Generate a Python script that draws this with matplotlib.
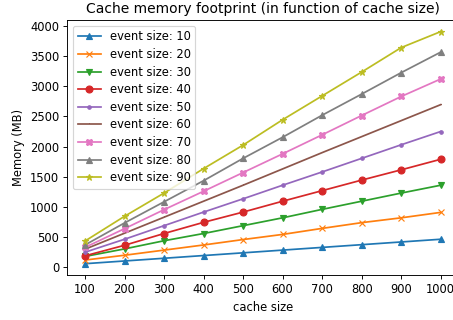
import matplotlib
matplotlib.use("Agg")
import matplotlib.pyplot as plt

cache_sizes = [100, 200, 300, 400, 500, 600, 700, 800, 900, 1000]
event_sizes = [10, 20, 30, 40, 50, 60, 70, 80, 90]
ev10 = [60, 105, 150, 195, 240, 285, 330, 375, 420, 465]
ev20 = [120, 200, 285, 370, 460, 545, 645, 740, 820, 910]
ev30 = [180, 305, 440, 560, 690, 820, 960, 1095, 1230, 1360]
ev40 = [190, 365, 560, 745, 915, 1095, 1270, 1445, 1615, 1790]
ev50 = [250, 465, 690, 915, 1135, 1360, 1580, 1805, 2030, 2250]
ev60 = [300, 565, 830, 1095, 1360, 1630, 1900, 2165, 2430, 2695]
ev70 = [330, 640, 955, 1260, 1570, 1880, 2195, 2515, 2830, 3120]
ev80 = [370, 735, 1085, 1435, 1805, 2155, 2520, 2870, 3225, 3565]
ev90 = [435, 845, 1230, 1635, 2025, 2445, 2840, 3235, 3640, 3905]
series = [ev10, ev20, ev30, ev40, ev50, ev60, ev70, ev80, ev90]
markers = ['^', 'x', 'v', 'o', '.', ',', 'X', '^', '*']

DPI = 83
fig = plt.figure(figsize=(454/DPI, 320/DPI), dpi=DPI)
ax = fig.add_axes([67.2/454, 44.7/320, (458.5-67.2)/454, (275.3-20)/320])
for es, vals, m in zip(event_sizes, series, markers):
    ax.plot(cache_sizes, vals, marker=m, label=f"event size: {es}")
ax.set_xticks(cache_sizes)
ax.set_xlabel("cache size")
ax.set_ylabel("Memory (MB)")
ax.set_title("Cache memory footprint (in function of cache size)")
ax.legend(loc="upper left", labelspacing=0.4)
fig.savefig("out.png", dpi=DPI)
